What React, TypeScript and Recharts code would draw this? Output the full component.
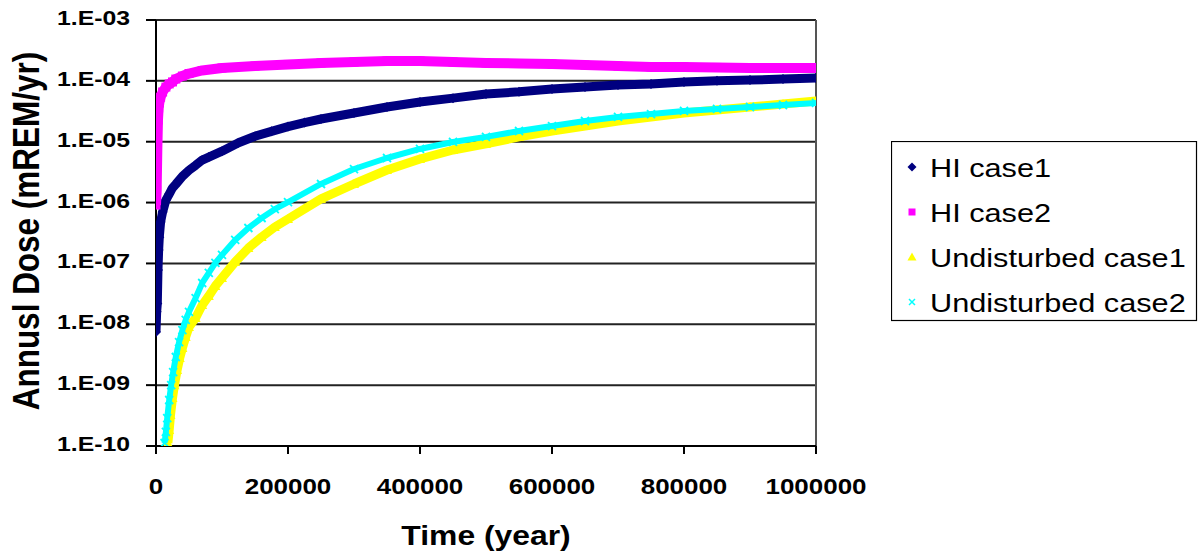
import React from 'react';
import { ComposedChart, Scatter, XAxis, YAxis, CartesianGrid, ReferenceLine, Legend } from 'recharts';

// ---------- DATA ----------
const seriesNames = ['HI case1', 'HI case2', 'Undisturbed case1', 'Undisturbed case2'];
const seriesColors = ['#000080', '#FF00FF', '#FFFF00', '#00FFFF'];

const xTicks = [0, 200000, 400000, 600000, 800000, 1000000];
const yTicks = [1e-10, 1e-9, 1e-8, 1e-7, 1e-6, 1e-5, 1e-4, 1e-3];
const yTickLabels = ['1.E-10', '1.E-09', '1.E-08', '1.E-07', '1.E-06', '1.E-05', '1.E-04', '1.E-03'];

const hi1T = [0, 1000, 2000, 3000, 4000, 5000, 7000, 10000, 15000, 20000, 25000, 30000, 40000, 50000, 60000, 70000, 80000, 100000, 125000, 150000, 175000, 200000, 225000, 250000, 300000, 350000, 400000, 450000, 500000, 550000, 600000, 650000, 700000, 750000, 800000, 850000, 900000, 950000, 1000000];
const hi1V = [7.5e-9, 1.6e-8, 2.2e-8, 7.8e-8, 1.66e-7, 2.7e-7, 4.8e-7, 7.0e-7, 1.1e-6, 1.38e-6, 1.74e-6, 2.0e-6, 2.7e-6, 3.4e-6, 4.1e-6, 5.0e-6, 5.6e-6, 7.0e-6, 9.6e-6, 1.23e-5, 1.48e-5, 1.77e-5, 2.06e-5, 2.36e-5, 2.96e-5, 3.72e-5, 4.5e-5, 5.2e-5, 6.1e-5, 6.6e-5, 7.35e-5, 7.9e-5, 8.55e-5, 8.9e-5, 9.6e-5, 1.0e-4, 1.03e-4, 1.07e-4, 1.11e-4];

const hi2T = [0, 1000, 2000, 3000, 4000, 5000, 7000, 10000, 15000, 20000, 25000, 30000, 40000, 50000, 70000, 100000, 150000, 200000, 250000, 300000, 350000, 400000, 450000, 500000, 550000, 600000, 650000, 700000, 750000, 800000, 850000, 900000, 950000, 1000000];
const hi2V = [9.1e-7, 1.6e-6, 7.3e-6, 2.27e-5, 3.58e-5, 4.33e-5, 5.4e-5, 6.56e-5, 7.9e-5, 8.9e-5, 9.6e-5, 1.07e-4, 1.2e-4, 1.32e-4, 1.48e-4, 1.63e-4, 1.75e-4, 1.86e-4, 1.97e-4, 2.04e-4, 2.12e-4, 2.12e-4, 2.04e-4, 1.97e-4, 1.93e-4, 1.89e-4, 1.82e-4, 1.75e-4, 1.69e-4, 1.69e-4, 1.66e-4, 1.63e-4, 1.63e-4, 1.63e-4];

const u1T = [18000, 20000, 22000, 25000, 28000, 32000, 36000, 40000, 45000, 50000, 60000, 70000, 80000, 90000, 100000, 120000, 140000, 160000, 180000, 200000, 250000, 300000, 350000, 400000, 450000, 500000, 550000, 600000, 650000, 700000, 750000, 800000, 850000, 900000, 950000, 1000000];
const u1V = [1.12e-10, 1.83e-10, 3.24e-10, 6.15e-10, 1.0e-9, 1.77e-9, 2.8e-9, 4.08e-9, 6.2e-9, 9.0e-9, 1.27e-8, 2.07e-8, 2.92e-8, 4.26e-8, 5.77e-8, 1.06e-7, 1.79e-7, 2.72e-7, 3.97e-7, 5.37e-7, 1.15e-6, 2.02e-6, 3.43e-6, 5.2e-6, 7.3e-6, 9.2e-6, 1.2e-5, 1.5e-5, 1.81e-5, 2.19e-5, 2.55e-5, 2.96e-5, 3.32e-5, 3.72e-5, 4.17e-5, 4.67e-5];

const u2T = [13000, 15000, 17000, 20000, 23000, 26000, 30000, 35000, 40000, 45000, 50000, 60000, 70000, 80000, 90000, 100000, 120000, 140000, 160000, 180000, 200000, 250000, 300000, 350000, 400000, 450000, 500000, 550000, 600000, 650000, 700000, 750000, 800000, 850000, 900000, 950000, 1000000];
const u2V = [1.12e-10, 1.7e-10, 2.88e-10, 5.7e-10, 1.0e-9, 1.64e-9, 2.9e-9, 5.1e-9, 8.05e-9, 1.18e-8, 1.6e-8, 2.7e-8, 4.77e-8, 6.97e-8, 1.02e-7, 1.38e-7, 2.43e-7, 3.82e-7, 5.58e-7, 7.8e-7, 1.02e-6, 2.02e-6, 3.56e-6, 5.4e-6, 7.6e-6, 9.9e-6, 1.2e-5, 1.5e-5, 1.81e-5, 2.19e-5, 2.55e-5, 2.85e-5, 3.2e-5, 3.45e-5, 3.72e-5, 4.01e-5, 4.33e-5];

// ---------- helpers ----------
const FONT = '"Liberation Sans", Arial, Helvetica, sans-serif';
const SX = 1.18; // horizontal stretch of the original rendering

const toPoints = (ts: number[], vs: number[]) => ts.map((t, i) => ({ t, v: vs[i] }));
const hi1Data = toPoints(hi1T, hi1V);
const hi2Data = toPoints(hi2T, hi2V);
const u1Data = toPoints(u1T, u1V);
const u2Data = toPoints(u2T, u2V);

const ok = (p: any) => p && Number.isFinite(p.cx) && Number.isFinite(p.cy);

const diamondPath = (cx: number, cy: number, r: number) =>
  `${cx},${cy - r} ${cx + r},${cy} ${cx},${cy + r} ${cx - r},${cy}`;
const trianglePath = (cx: number, cy: number, r: number) =>
  `${cx},${cy - r} ${cx + r},${cy + r * 0.8} ${cx - r},${cy + r * 0.8}`;

const DiamondShape = (p: any) =>
  ok(p) ? <polygon points={diamondPath(p.cx, p.cy, 5)} fill={seriesColors[0]} /> : <g />;
const SquareShape = (p: any) =>
  ok(p) ? <rect x={p.cx - 4.5} y={p.cy - 4.5} width={9} height={9} fill={seriesColors[1]} /> : <g />;
const TriangleShape = (p: any) =>
  ok(p) ? <polygon points={trianglePath(p.cx, p.cy, 5)} fill={seriesColors[2]} /> : <g />;
const XShape = (p: any) =>
  ok(p) ? (
    <g stroke={seriesColors[3]} strokeWidth={1.8}>
      <line x1={p.cx - 4} y1={p.cy - 4} x2={p.cx + 4} y2={p.cy + 4} />
      <line x1={p.cx - 4} y1={p.cy + 4} x2={p.cx + 4} y2={p.cy - 4} />
    </g>
  ) : <g />;

const XTick = (props: any) => {
  const { x, y, payload } = props;
  return (
    <g transform={`translate(${x},${y + 38}) scale(${SX},1)`}>
      <text x={0} y={0} textAnchor="middle" fontFamily={FONT} fontWeight="bold" fontSize={22} fill="#000">
        {String(payload.value)}
      </text>
    </g>
  );
};

const YTick = (props: any) => {
  const { x, y, payload } = props;
  const idx = yTicks.findIndex((t) => Math.abs(Math.log10(t) - Math.log10(payload.value)) < 1e-6);
  const label = idx >= 0 ? yTickLabels[idx] : String(payload.value);
  return (
    <g transform={`translate(${x},${y + 5}) scale(${SX},1)`}>
      <text x={0} y={0} textAnchor="end" fontFamily={FONT} fontWeight="bold" fontSize={21} fill="#000">
        {label}
      </text>
    </g>
  );
};

const XTitle = (props: any) => {
  const vb = props.viewBox || { x: 156, y: 446, width: 660 };
  const cx = vb.x + vb.width / 2;
  return (
    <g transform={`translate(${cx},545) scale(${SX},1)`}>
      <text x={0} y={0} textAnchor="middle" fontFamily={FONT} fontWeight="bold" fontSize={27} fill="#000">
        Time (year)
      </text>
    </g>
  );
};

const YTitle = () => (
  <g transform={`translate(39,231) scale(${SX},1) rotate(-90)`}>
    <text x={0} y={0} textAnchor="middle" fontFamily={FONT} fontWeight="bold" fontSize={31.5} fill="#000">
      Annusl Dose (mREM/yr)
    </text>
  </g>
);

const legendMarker = (i: number, cx: number, cy: number) => {
  const c = seriesColors[i];
  if (i === 0) return <polygon points={diamondPath(cx, cy, 4.5)} fill={c} />;
  if (i === 1) return <rect x={cx - 3.5} y={cy - 3.5} width={7} height={7} fill={c} />;
  if (i === 2) return <polygon points={trianglePath(cx, cy, 4.5)} fill={c} />;
  return (
    <g stroke={c} strokeWidth={1.5}>
      <line x1={cx - 3} y1={cy - 3} x2={cx + 3} y2={cy + 3} />
      <line x1={cx - 3} y1={cy + 3} x2={cx + 3} y2={cy - 3} />
    </g>
  );
};

const LegendBox = () => (
  <svg width={307} height={181} style={{ display: 'block' }}>
    <rect x={0.5} y={0.5} width={305} height={179} fill="#fff" stroke="#000" strokeWidth={1.2} />
    {seriesNames.map((n, i) => {
      const cy = 26 + i * 45;
      return (
        <g key={n}>
          {legendMarker(i, 21, cy)}
          <g transform={`translate(39,${cy + 9.5}) scale(${SX},1)`}>
            <text x={0} y={0} fontFamily={FONT} fontSize={26} fill="#000">
              {n}
            </text>
          </g>
        </g>
      );
    })}
  </svg>
);

export default function App() {
  return (
    <div style={{ position: 'absolute', left: 0, top: 0, width: 1198, height: 557, background: '#fff' }}>
      <ComposedChart width={1198} height={557} margin={{ top: 20, right: 382, bottom: 0, left: 0 }}>
        <CartesianGrid vertical={false} stroke="#222" strokeWidth={2} />
        <XAxis
          type="number"
          dataKey="t"
          domain={[0, 1000000]}
          ticks={xTicks}
          interval={0}
          height={111}
          tickSize={8}
          tickMargin={2}
          axisLine={{ stroke: '#000', strokeWidth: 2 }}
          tickLine={{ stroke: '#000', strokeWidth: 2 }}
          tick={<XTick />}
          label={{ content: (p: any) => <XTitle {...p} /> }}
          allowDataOverflow
        />
        <YAxis
          type="number"
          dataKey="v"
          scale="log"
          domain={[1e-10, 1e-3]}
          ticks={yTicks}
          interval={0}
          width={156}
          tickSize={10}
          tickMargin={16}
          axisLine={{ stroke: '#000', strokeWidth: 2 }}
          tickLine={{ stroke: '#000', strokeWidth: 2 }}
          tick={<YTick />}
          label={{ content: () => <YTitle /> }}
          allowDataOverflow
        />
        <ReferenceLine x={1000000} stroke="#555" strokeWidth={2} />
        <Scatter
          name={seriesNames[0]}
          data={hi1Data}
          fill={seriesColors[0]}
          line={{ stroke: seriesColors[0], strokeWidth: 9, strokeLinejoin: 'round' }}
          lineType="joint"
          shape={DiamondShape}
          isAnimationActive={false}
        />
        <Scatter
          name={seriesNames[1]}
          data={hi2Data}
          fill={seriesColors[1]}
          line={{ stroke: seriesColors[1], strokeWidth: 10, strokeLinejoin: 'round' }}
          lineType="joint"
          shape={SquareShape}
          isAnimationActive={false}
        />
        <Scatter
          name={seriesNames[2]}
          data={u1Data}
          fill={seriesColors[2]}
          line={{ stroke: seriesColors[2], strokeWidth: 9, strokeLinejoin: 'round' }}
          lineType="joint"
          shape={TriangleShape}
          isAnimationActive={false}
        />
        <Scatter
          name={seriesNames[3]}
          data={u2Data}
          fill={seriesColors[3]}
          line={{ stroke: seriesColors[3], strokeWidth: 6, strokeLinejoin: 'round' }}
          lineType="joint"
          shape={XShape}
          isAnimationActive={false}
        />
        <Legend
          layout="vertical"
          align="center"
          verticalAlign="middle"
          content={() => <LegendBox />}
          wrapperStyle={{ position: 'absolute', left: 891, top: 141, width: 307, height: 181 }}
        />
      </ComposedChart>
    </div>
  );
}
